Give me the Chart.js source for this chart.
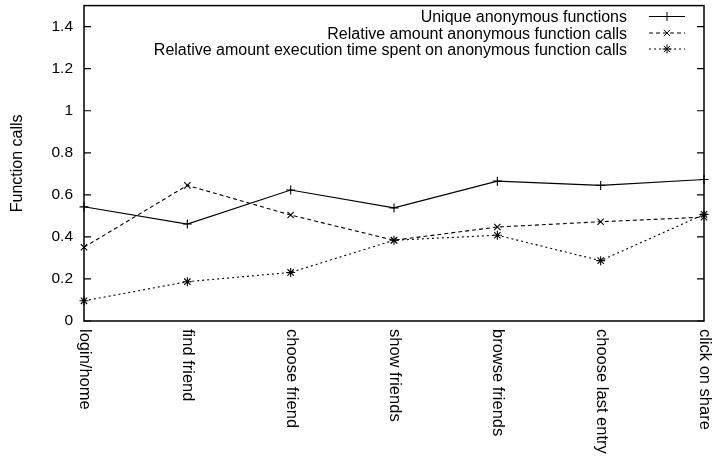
<!DOCTYPE html>
<html>
<head>
<meta charset="utf-8">
<title>Function calls per step</title>
<script src="https://cdn.jsdelivr.net/npm/chart.js@4/dist/chart.umd.min.js"></script>
<style>
  html, body { margin: 0; padding: 0; background: #fff; }
  canvas { display: block; }
</style>
</head>
<body>
<canvas id="chart" width="718" height="457"></canvas>
<script>
// Steps of the user scenario (x axis)
const steps = ['login/home', 'find friend', 'choose friend', 'show friends', 'browse friends', 'choose last entry', 'click on share'];

// Series values per step
const uniqueAnonFunctions = [0.543, 0.461, 0.623, 0.538, 0.665, 0.645, 0.673];
const relativeAnonCalls   = [0.351, 0.645, 0.504, 0.384, 0.447, 0.472, 0.494];
const relativeAnonTime    = [0.096, 0.187, 0.231, 0.384, 0.408, 0.287, 0.507];

// Series names
const seriesNames = [
  'Unique anonymous functions',
  'Relative amount anonymous function calls',
  'Relative amount execution time spent on anonymous function calls'
];

// Y axis ticks
const yTicks = [0, 0.2, 0.4, 0.6, 0.8, 1, 1.2, 1.4];
const yTitle = 'Function calls';

const FONT = '"Liberation Sans", Arial, Helvetica, sans-serif';
Chart.defaults.font.family = FONT;
Chart.defaults.color = '#000';

// Frame with inward tick marks on both vertical sides
const framePlugin = {
  id: 'frame',
  afterDraw(chart) {
    const { ctx, chartArea: a } = chart;
    const y = chart.scales.y;
    ctx.save();
    ctx.strokeStyle = '#000';
    ctx.lineWidth = 1.5;
    ctx.strokeRect(a.left, a.top, a.right - a.left, a.bottom - a.top);
    ctx.lineWidth = 1.2;
    ctx.beginPath();
    y.ticks.forEach(t => {
      const py = y.getPixelForValue(t.value);
      ctx.moveTo(a.left, py); ctx.lineTo(a.left + 7, py);
      ctx.moveTo(a.right, py); ctx.lineTo(a.right - 7, py);
    });
    ctx.stroke();
    ctx.restore();
  }
};

// Category labels, rotated to read downward from each tick
const xLabelPlugin = {
  id: 'xLabels',
  afterDraw(chart) {
    const { ctx, chartArea: a } = chart;
    const x = chart.scales.x;
    ctx.save();
    ctx.fillStyle = '#000';
    ctx.font = '16.5px ' + FONT;
    ctx.textAlign = 'left';
    ctx.textBaseline = 'alphabetic';
    chart.data.labels.forEach((lab, i) => {
      const px = x.getPixelForValue(i);
      ctx.save();
      ctx.translate(px - 4, a.bottom + 8);
      ctx.rotate(Math.PI / 2);
      ctx.fillText(lab, 0, 0);
      ctx.restore();
    });
    ctx.restore();
  }
};

// Key in the top right corner: right-aligned names followed by a line sample
const keyPlugin = {
  id: 'key',
  afterDraw(chart) {
    const { ctx } = chart;
    const textRight = 627, lineStart = 649, lineEnd = 685;
    const baselines = [22, 38.5, 54.5];
    ctx.save();
    ctx.font = '16px ' + FONT;
    ctx.textAlign = 'right';
    ctx.textBaseline = 'alphabetic';
    chart.data.datasets.forEach((ds, i) => {
      const by = baselines[i];
      const ly = by - 5.5;
      ctx.fillStyle = '#000';
      ctx.fillText(ds.label, textRight, by);
      ctx.strokeStyle = '#000';
      ctx.lineWidth = 1;
      ctx.setLineDash(ds.borderDash || []);
      ctx.beginPath();
      ctx.moveTo(lineStart, ly);
      ctx.lineTo(lineEnd, ly);
      ctx.stroke();
      ctx.setLineDash([]);
      Chart.helpers.drawPoint(ctx, {
        pointStyle: ds.pointStyle, radius: ds.pointRadius, borderWidth: 1, rotation: 0
      }, (lineStart + lineEnd) / 2, ly);
    });
    ctx.restore();
  }
};

const baseSeries = {
  borderColor: '#000',
  backgroundColor: '#000',
  pointBorderColor: '#000',
  pointBackgroundColor: '#000',
  borderWidth: 1.1,
  pointRadius: 4.5,
  pointBorderWidth: 1.1,
  tension: 0,
  fill: false,
  clip: false
};

new Chart(document.getElementById('chart'), {
  type: 'line',
  data: {
    labels: steps,
    datasets: [
      Object.assign({}, baseSeries, { label: seriesNames[0], data: uniqueAnonFunctions, pointStyle: 'cross', borderDash: [] }),
      Object.assign({}, baseSeries, { label: seriesNames[1], data: relativeAnonCalls, pointStyle: 'crossRot', borderDash: [4, 3] }),
      Object.assign({}, baseSeries, { label: seriesNames[2], data: relativeAnonTime, pointStyle: 'star', borderDash: [2, 3] })
    ]
  },
  options: {
    responsive: false,
    devicePixelRatio: 1,
    animation: false,
    layout: { padding: { top: 3, right: 14, left: 0, bottom: 0 } },
    plugins: {
      legend: { display: false },
      tooltip: { enabled: false }
    },
    scales: {
      x: {
        type: 'category',
        offset: false,
        grid: { display: false, drawTicks: false },
        border: { display: false },
        ticks: { display: false },
        afterFit(scale) {
          scale.height = 136;
          scale.paddingLeft = 0; scale.paddingRight = 0;
        }
      },
      y: {
        min: 0,
        max: 1.5,
        grid: { display: false, drawTicks: false },
        border: { display: false },
        afterBuildTicks(scale) { scale.ticks = yTicks.map(v => ({ value: v })); },
        ticks: {
          font: { size: 15.5 },
          color: '#000',
          padding: 11,
          callback: v => String(+Number(v).toFixed(1))
        },
        title: {
          display: true,
          text: yTitle,
          color: '#000',
          font: { size: 16 },
          padding: { top: 7.5, bottom: 0 }
        },
        afterFit(scale) {
          scale.width = 84;
          scale.paddingTop = 0; scale.paddingBottom = 0;
        }
      }
    }
  },
  plugins: [framePlugin, xLabelPlugin, keyPlugin]
});
</script>
</body>
</html>
